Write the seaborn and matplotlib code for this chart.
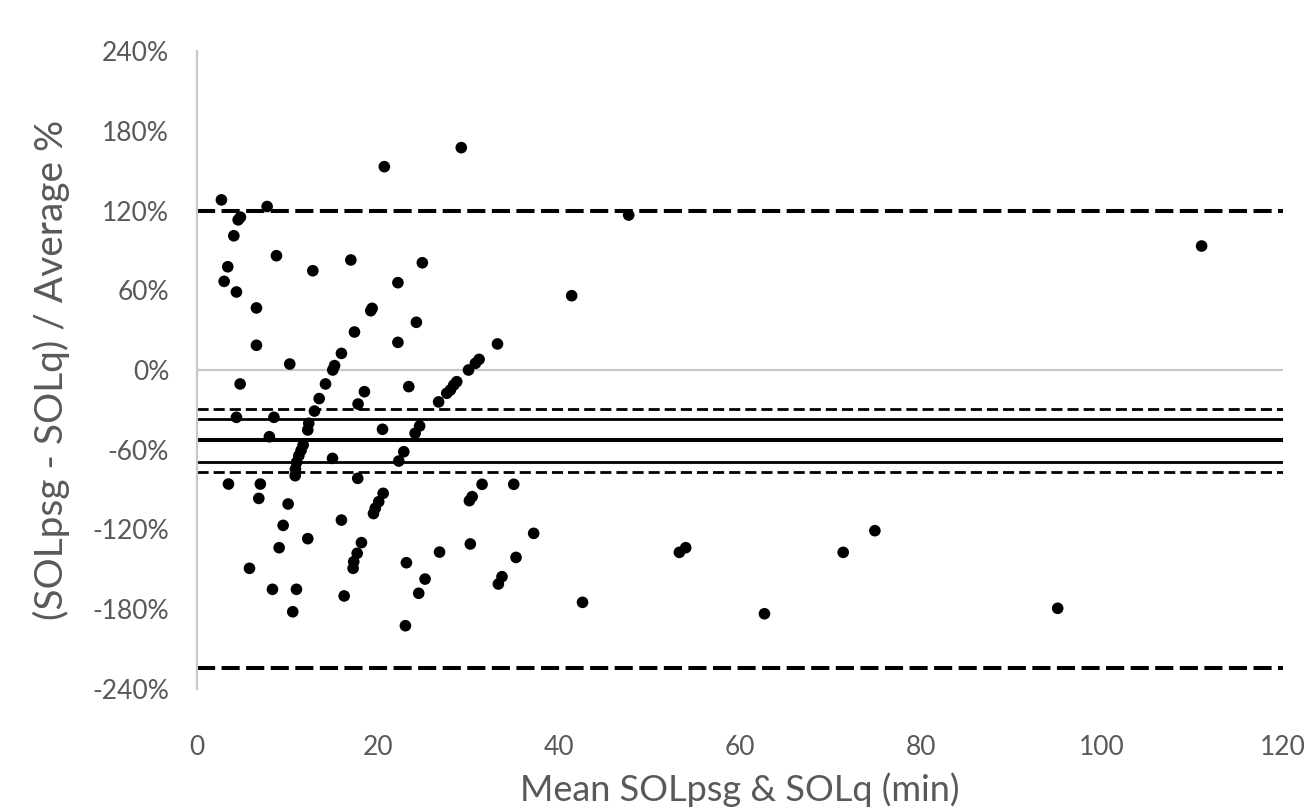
import numpy as np
import pandas as pd
import seaborn as sns
import matplotlib
matplotlib.use("Agg")
import matplotlib.pyplot as plt
from matplotlib.ticker import FuncFormatter

# ---- data ----
mean_min = [20.7, 2.7, 7.75, 4.55, 4.8, 4.07, 8.78, 3.4, 12.8, 17.0,
            3.0, 4.36, 22.2, 6.57, 19.35, 19.2, 17.4, 6.57, 22.2, 15.96,
            15.2, 15.0, 10.25, 4.77, 14.2, 13.5, 18.5, 23.4, 17.8, 12.98,
            4.36, 8.5, 12.35, 12.24, 20.5, 8.0, 11.73, 11.5, 11.25, 11.0,
            10.88, 10.85, 14.97, 22.85, 22.3, 17.76, 3.48, 7.0, 6.83, 10.07,
            20.57, 20.08, 19.7, 19.5, 9.52, 15.96, 12.24, 18.17, 9.08, 17.7,
            17.32, 17.25, 23.14, 5.8, 8.34, 10.99, 16.26, 10.58, 23.03, 29.2,
            47.7, 24.9, 41.4, 24.24, 33.2, 31.17, 30.76, 30.0, 28.7, 28.37,
            28.0, 27.6, 26.7, 24.6, 24.1, 31.5, 35.0, 30.4, 30.1, 37.2,
            30.2, 26.8, 35.25, 33.7, 33.3, 25.2, 24.5, 42.6, 53.3, 54.0,
            62.7, 71.4, 74.9, 95.1, 111.0]
diff_pct = [153, 128, 123, 113, 115, 101, 86, 77.7, 74.7, 82.8,
            66.7, 58.7, 65.7, 46.7, 46.4, 44.6, 28.6, 18.6, 20.8, 12.5,
            3.3, 0, 4.5, -10.5, -10.5, -21.5, -16.3, -12.5, -25.6, -30.9,
            -35.6, -35.6, -40.1, -45.1, -44.6, -50.2, -56.4, -60.5, -64.5, -69.5,
            -74.5, -79.5, -66.5, -61.5, -68.5, -81.5, -85.8, -85.8, -96.6, -100.8,
            -92.8, -99.1, -104, -108, -116.9, -112.9, -126.9, -129.9, -133.7, -137.9,
            -144.2, -149.2, -145, -149.2, -165, -165, -170, -181.9, -192.4, 167.3,
            116.6, 80.7, 55.9, 35.9, 19.6, 8, 5, 0, -8.8, -11.3,
            -15, -17.5, -24, -42.1, -47.6, -86, -86, -95.3, -98.3, -122.9,
            -130.9, -137, -141, -155.5, -161, -157.3, -168, -174.8, -137.2, -133.7,
            -183.4, -137.2, -120.9, -179.3, 93.3]

bias = -52.5
loa_limits = [119.5, -224.5]
bias_ci = [-37.0, -69.0]
outer_ci = [-29.5, -77.0]

x_ticks = [0, 20, 40, 60, 80, 100, 120]
y_ticks = [-240, -180, -120, -60, 0, 60, 120, 180, 240]
x_label = "Mean SOLpsg & SOLq (min)"
y_label = "(SOLpsg - SOLq) / Average %"

# ---- plot ----
sns.set_theme(style="white")
plt.rcParams["font.family"] = ["Lato", "DejaVu Sans"]

fig, ax = plt.subplots(figsize=(13.15, 8.10), dpi=100)
fig.subplots_adjust(left=0.1498, right=0.9757, bottom=0.1494, top=0.937)

df = pd.DataFrame({"mean": mean_min, "diff": diff_pct})

ax.axhline(0, color="#c8c8c8", lw=1.6, zorder=1)
for v in loa_limits:
    ax.axhline(v, color="black", lw=2.9, linestyle=(0, (4.5, 1.6)), zorder=2)
ax.axhline(bias, color="black", lw=2.9, zorder=2)
for v in bias_ci:
    ax.axhline(v, color="black", lw=2.0, zorder=2)
for v in outer_ci:
    ax.axhline(v, color="black", lw=2.0, linestyle=(0, (4.0, 1.8)), zorder=2)

sns.scatterplot(data=df, x="mean", y="diff", color="black", s=70,
                edgecolor="none", linewidth=0, ax=ax, zorder=3)

ax.set_xlim(0, 120)
ax.set_ylim(-240, 240)
ax.set_xticks(x_ticks)
ax.set_yticks(y_ticks)
ax.yaxis.set_major_formatter(FuncFormatter(lambda v, p: f"{int(round(v))}%"))

for s in ["top", "right", "bottom"]:
    ax.spines[s].set_visible(False)
ax.spines["left"].set_color("#c8c8c8")
ax.spines["left"].set_linewidth(1.6)

ax.tick_params(axis="both", length=0, labelsize=19, colors="#595959")
ax.tick_params(axis="y", pad=20)
ax.tick_params(axis="x", pad=33)

ax.set_xlabel(x_label, fontsize=26, color="#595959", va="top")
ax.set_ylabel(y_label, fontsize=28, color="#595959")
ax.xaxis.set_label_coords(0.5, -0.13)
ax.yaxis.set_label_coords(-0.117, 0.5)

fig.savefig("out.png", dpi=100)
